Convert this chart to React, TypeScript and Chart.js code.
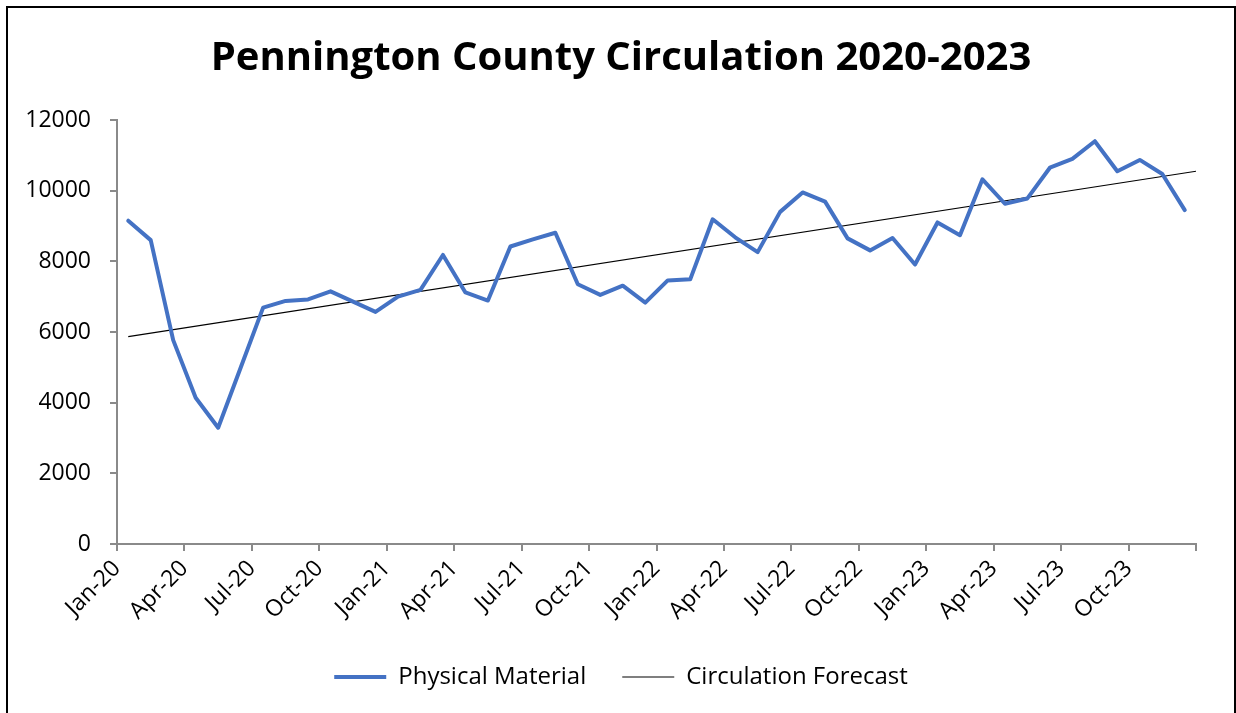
import React, { useEffect, useRef } from 'react';
import { Chart, registerables } from 'chart.js';

Chart.register(...registerables);

// Tick labels for the date axis (every 3 months, last tick unlabeled)
const tickLabels = [
  'Jan-20', 'Apr-20', 'Jul-20', 'Oct-20',
  'Jan-21', 'Apr-21', 'Jul-21', 'Oct-21',
  'Jan-22', 'Apr-22', 'Jul-22', 'Oct-22',
  'Jan-23', 'Apr-23', 'Jul-23', 'Oct-23',
  '',
];

// Monthly circulation, Jan-20 .. Dec-23
const physicalMaterial = [
  9150, 8600, 5770, 4140, 3290, 4990, 6690, 6880, 6920, 7150, 6860, 6570,
  7000, 7190, 8180, 7120, 6890, 8420, 8620, 8810, 7350, 7050, 7310, 6830,
  7460, 7490, 9190, 8680, 8260, 9400, 9950, 9690, 8650, 8310, 8660, 7910,
  9100, 8740, 10320, 9630, 9780, 10650, 10900, 11400, 10550, 10870, 10470, 9450,
];

// Linear trend ("Circulation Forecast") endpoints: month position and value
const forecastMonths = [0.5, 48];
const forecastValues = [5870, 10550];

const yTicks = [0, 2000, 4000, 6000, 8000, 10000, 12000];

const FONT = 'Open Sans';
const AXIS = '#8a8a8a';

export default function App() {
  const ref = useRef<HTMLCanvasElement | null>(null);

  useEffect(() => {
    document.documentElement.style.overflow = 'hidden';
    const canvas = ref.current;
    if (!canvas) return;
    const chart = new Chart(canvas, {
      type: 'line',
      data: {
        datasets: [
          {
            label: 'Physical Material',
            data: physicalMaterial.map((v, i) => ({ x: i + 0.5, y: v })),
            borderColor: '#4472C4',
            backgroundColor: '#4472C4',
            borderWidth: 4,
            pointRadius: 0,
            borderJoinStyle: 'round',
            borderCapStyle: 'round',
            tension: 0,
          },
          {
            label: 'Circulation Forecast',
            data: forecastMonths.map((m, i) => ({ x: m, y: forecastValues[i] })),
            borderColor: '#000000',
            backgroundColor: '#000000',
            borderWidth: 1.2,
            pointRadius: 0,
            tension: 0,
          },
        ],
      },
      options: {
        animation: false,
        responsive: true,
        maintainAspectRatio: false,
        layout: { padding: { left: 0, right: 0, top: 0, bottom: 25 } },
        plugins: {
          title: {
            display: true,
            text: 'Pennington County Circulation 2020-2023',
            color: '#000',
            font: { family: FONT, size: 40, weight: 'bold' },
            padding: { top: 27, bottom: 37 },
          },
          legend: {
            position: 'bottom',
            labels: {
              usePointStyle: true,
              pointStyle: 'line',
              pointStyleWidth: 52,
              padding: 36,
              color: '#000',
              font: { family: FONT, size: 24 },
            },
          },
          tooltip: { enabled: false },
        },
        scales: {
          x: {
            type: 'linear',
            min: 0,
            max: 48,
            afterBuildTicks: (s: any) => {
              s.ticks = tickLabels.map((_, i) => ({ value: i * 3 }));
            },
            afterFit: (s: any) => {
              s.height = 85;
            },
            ticks: {
              autoSkip: false,
              minRotation: 45,
              maxRotation: 45,
              padding: 4,
              color: '#000',
              font: { family: FONT, size: 23 },
              callback: (v: any) => tickLabels[Math.round(Number(v) / 3)] ?? '',
            },
            grid: {
              display: true,
              drawOnChartArea: false,
              drawTicks: true,
              tickLength: 7,
              color: AXIS,
              lineWidth: 2,
            },
            border: { display: true, color: AXIS, width: 2 },
          },
          y: {
            min: 0,
            max: 12000,
            afterBuildTicks: (s: any) => {
              s.ticks = yTicks.map((v) => ({ value: v }));
            },
            afterFit: (s: any) => {
              s.width = 109;
            },
            ticks: {
              padding: 19,
              color: '#000',
              font: { family: FONT, size: 23 },
              callback: (v: any) => String(v),
            },
            grid: {
              display: true,
              drawOnChartArea: false,
              drawTicks: true,
              tickLength: 7,
              color: AXIS,
              lineWidth: 2,
            },
            border: { display: true, color: AXIS, width: 2 },
          },
          // empty spacer on the right so the plot ends where the reference does
          spacer: {
            type: 'linear',
            position: 'right',
            display: true,
            afterFit: (s: any) => {
              s.width = 38;
            },
            ticks: { display: false },
            grid: { display: false, drawTicks: false },
            border: { display: false },
          },
        },
      },
    });
    return () => chart.destroy();
  }, []);

  return (
    <div
      style={{
        position: 'absolute',
        left: 6,
        top: 6,
        width: 1230,
        height: 720,
        border: '2px solid #000',
        boxSizing: 'border-box',
        background: '#fff',
      }}
    >
      <canvas ref={ref} />
    </div>
  );
}
